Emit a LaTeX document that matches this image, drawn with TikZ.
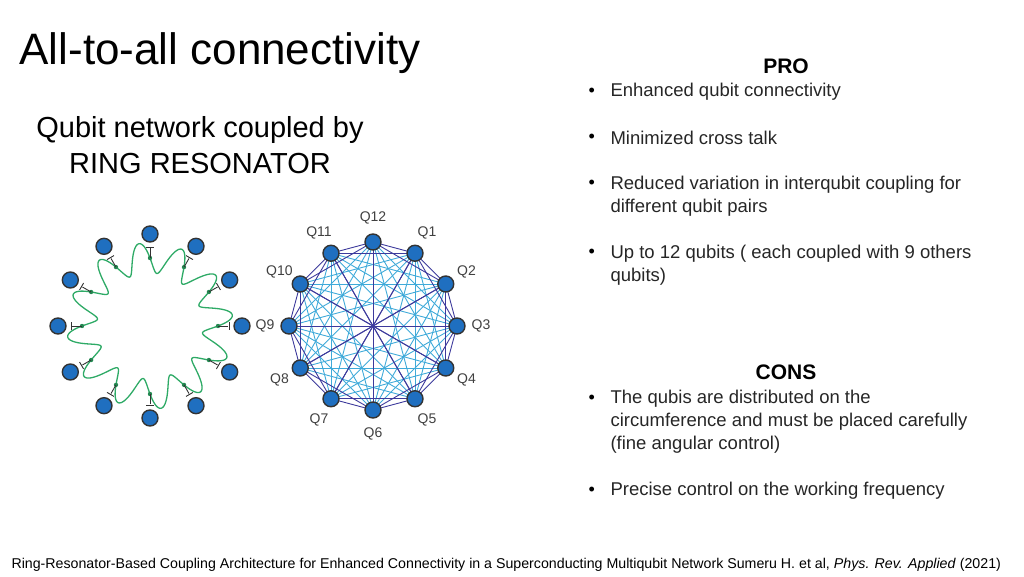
\documentclass[tikz,border=0pt]{standalone}
\usepackage{fontspec}
\setmainfont{Liberation Sans}
\usetikzlibrary{positioning,calc}
\definecolor{qblue}{HTML}{1F6FC0}
\definecolor{dark}{HTML}{3D3A9C}
\definecolor{light}{HTML}{3FAAD9}
\definecolor{ring}{HTML}{2EAA66}
\begin{document}
\begin{tikzpicture}[x=1pt,y=1pt]
	\tikzset{qubit/.style={circle, draw=black!80, line width=1.4, fill=qblue, minimum size=16, inner sep=0},
		qlab/.style={font=\fontsize{14}{16}\selectfont, text=black!75},
		txt/.style={anchor=west, font=\fontsize{18.5}{23}\selectfont, text=black!85},
		bul/.style={anchor=west, font=\fontsize{18}{20}\selectfont}}
	\useasboundingbox (0,0) rectangle (1024,576);
	% titles
	\node[anchor=west, font=\fontsize{44}{48}\selectfont] (title) at (16,523) {All-to-all connectivity};
	\node[align=center, font=\fontsize{29}{36}\selectfont] (sub) at (200,431) {Qubit network coupled by\\RING RESONATOR};
	% ring resonator
	\draw[ring, line width=1.3, shift={(150,250)}] plot[domain=0:360, samples=721, smooth] (\x:{68+15*sin(12*\x)});
	\foreach \k in {1,...,12} {
		\pgfmathsetmacro{\a}{90-30*\k}
		\fill[ring!80!black] (150,250) ++(\a:68) circle (2.2);
		\draw[black!80, line width=0.9] (150,250) ++(\a:68) -- ++(\a:10);
		\draw[black!80, line width=0.9] (150,250) ++(\a:79) ++(\a+90:4) -- ++(\a-90:8);
		\node[qubit] (r\k) at ($(150,250)+(\a:92)$) {};
	}
	% all-to-all graph
	\foreach \k in {1,...,12} {
		\pgfmathsetmacro{\a}{90-30*\k}
		\coordinate (q\k) at ($(373,250)+(\a:84)$);
	}
	\foreach \i in {1,...,12} {
		\foreach \d in {3,4,5} {
			\pgfmathtruncatemacro{\j}{mod(\i+\d-1,12)+1}
			\draw[light, line width=0.9] (q\i) -- (q\j);
		}
	}
	\foreach \i in {1,...,12} {
		\foreach \d in {1,2,6} {
			\pgfmathtruncatemacro{\j}{mod(\i+\d-1,12)+1}
			\draw[dark, line width=0.9] (q\i) -- (q\j);
		}
	}
	\foreach \k in {1,...,12} {
		\pgfmathsetmacro{\a}{90-30*\k}
		\node[qubit] (n\k) at (q\k) {};
		\node[qlab] at ($(373,250)+(\a:108)$) {Q\k};
	}
	% pro
	\node[font=\fontsize{21}{24}\selectfont\bfseries] (pro) at (786,510) {PRO};
	\node[bul] at (585,484) {•}; \node[txt] at (607,484) {Enhanced qubit connectivity};
	\node[bul] at (585,438) {•}; \node[txt] at (607,438) {Minimized cross talk};
	\node[bul] at (585,392) {•}; \node[txt, align=left] at (607,380) {Reduced variation in interqubit coupling for\\different qubit pairs};
	\node[bul] at (585,323) {•}; \node[txt, align=left] at (607,311) {Up to 12 qubits ( each coupled with 9 others\\qubits)};
	% cons
	\node[font=\fontsize{21}{24}\selectfont\bfseries] (cons) at (786,204) {CONS};
	\node[bul] at (585,177) {•}; \node[txt, align=left] at (607,154) {The qubis are distributed on the\\circumference and must be placed carefully\\(fine angular control)};
	\node[bul] at (585,85) {•}; \node[txt] at (607,85) {Precise control on the working frequency};
	% reference
	\node[anchor=west, font=\fontsize{14.2}{16}\selectfont] (ref) at (8,11) {Ring-Resonator-Based Coupling Architecture for Enhanced Connectivity in a Superconducting Multiqubit Network Sumeru H. et al, \textit{Phys. Rev. Applied} (2021)};
\end{tikzpicture}
\end{document}
